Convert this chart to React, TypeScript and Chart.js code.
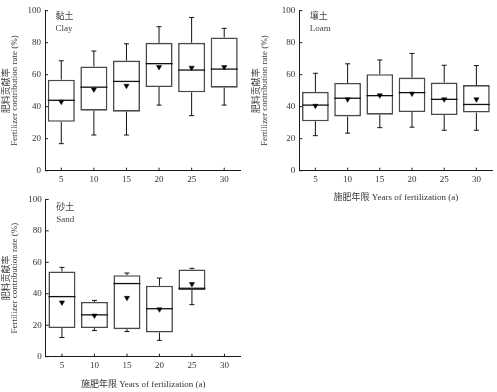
import React, { useEffect, useRef } from 'react';
import { Chart, registerables } from 'chart.js';

Chart.register(...registerables);

// ---------- data ----------
const years = ['5', '10', '15', '20', '25', '30'];
const yTickValues = [0, 20, 40, 60, 80, 100];
const yTitle = ['肥料贡献率', 'Fertilizer contribution rate (%)'];
const xTitle = '施肥年限 Years of fertilization (a)';

const clayLow = [16.9, 22.3, 22.3, 41, 34.4, 41];
const clayQ1 = [30.6, 37.5, 36.9, 52.3, 49, 51.9];
const clayMedian = [44, 52.2, 55.8, 66.9, 62.9, 63.5];
const clayQ3 = [56.9, 65.2, 68.8, 79.9, 79.9, 83.3];
const clayHigh = [68.7, 74.8, 79.3, 90, 95.8, 89];
const clayMean = [43.1, 50.8, 53.1, 64.8, 64.4, 64.8];

const loamLow = [21.9, 23.5, 26.9, 27.2, 25.3, 25.3];
const loamQ1 = [30.9, 33.9, 35, 36.7, 34.8, 36.3];
const loamMedian = [41, 45.3, 46.9, 48.8, 44.6, 41.4];
const loamQ3 = [49.3, 54.8, 60.3, 58.2, 55.1, 53.5];
const loamHigh = [60.9, 66.8, 69.2, 73.3, 65.9, 65.7];
const loamMean = [40.6, 44.6, 47.1, 48.2, 44.6, 44.6];

const sandLow = [12.2, 16.6, 16, 10.4, 33.1, null];
const sandQ1 = [18.2, 18.2, 17.5, 15.4, 42.4, null];
const sandMedian = [38.2, 26.6, 46.5, 30.5, 43.5, null];
const sandQ3 = [54.2, 34.8, 51.8, 45.1, 55.5, null];
const sandHigh = [56.8, 35.8, 53.2, 50, 56.2, null];
const sandMean = [34.5, 26.2, 37.4, 30.1, 46.2, null];

type Num = number | null;
type Panel = {
  zh: string;
  en: string;
  low: Num[];
  q1: Num[];
  med: Num[];
  q3: Num[];
  high: Num[];
  mean: Num[];
  showXTitle: boolean;
  canvas: { left: number; top: number; w: number; h: number };
  area: { left: number; top: number; right: number; bottom: number };
  labelDy: number;
};

const FONT = "'Liberation Serif', 'Times New Roman', 'Noto Sans CJK SC', serif";

const panels: Panel[] = [
  {
    zh: '黏土', en: 'Clay',
    low: clayLow, q1: clayQ1, med: clayMedian, q3: clayQ3, high: clayHigh, mean: clayMean,
    showXTitle: false,
    canvas: { left: 0, top: 0, w: 250, h: 192 },
    area: { left: 45, top: 10.7, right: 240.5, bottom: 170.7 },
    labelDy: 0,
  },
  {
    zh: '壤土', en: 'Loam',
    low: loamLow, q1: loamQ1, med: loamMedian, q3: loamQ3, high: loamHigh, mean: loamMean,
    showXTitle: true,
    canvas: { left: 250, top: 0, w: 247, h: 203 },
    area: { left: 299.3, top: 10.7, right: 495.3, bottom: 170.7 },
    labelDy: 0.5,
  },
  {
    zh: '砂土', en: 'Sand',
    low: sandLow, q1: sandQ1, med: sandMedian, q3: sandQ3, high: sandHigh, mean: sandMean,
    showXTitle: true,
    canvas: { left: 0, top: 190, w: 250, h: 200 },
    area: { left: 45.7, top: 196.7, right: 240.7, bottom: 356.7 },
    labelDy: 2.5,
  },
];

function makeParts(p: Panel) {
  return {
    id: 'boxParts',
    afterDatasetDraw(chart: any, args: any) {
      if (args.index !== 0) return;
      const ctx = chart.ctx;
      const ys = chart.scales.y;
      const meta = chart.getDatasetMeta(0);
      ctx.save();
      meta.data.forEach((bar: any, i: number) => {
        const lo = p.low[i], q1 = p.q1[i], md = p.med[i], q3 = p.q3[i], hi = p.high[i];
        if (lo == null || q1 == null || md == null || q3 == null || hi == null) return;
        const x = bar.x;
        const half = bar.width / 2;
        ctx.strokeStyle = '#111';
        ctx.lineWidth = 1;
        ctx.beginPath();
        ctx.moveTo(x, ys.getPixelForValue(q3));
        ctx.lineTo(x, ys.getPixelForValue(hi));
        ctx.moveTo(x - 2.5, ys.getPixelForValue(hi));
        ctx.lineTo(x + 2.5, ys.getPixelForValue(hi));
        ctx.moveTo(x, ys.getPixelForValue(q1));
        ctx.lineTo(x, ys.getPixelForValue(lo));
        ctx.moveTo(x - 2.5, ys.getPixelForValue(lo));
        ctx.lineTo(x + 2.5, ys.getPixelForValue(lo));
        ctx.stroke();
        ctx.lineWidth = 1.3;
        ctx.beginPath();
        ctx.moveTo(x - half, ys.getPixelForValue(md));
        ctx.lineTo(x + half, ys.getPixelForValue(md));
        ctx.stroke();
      });
      ctx.restore();
    },
    afterDraw(chart: any) {
      const ctx = chart.ctx;
      const xs = chart.scales.x;
      const ys = chart.scales.y;
      const a = chart.chartArea;
      ctx.save();
      ctx.strokeStyle = '#1a1a1a';
      ctx.lineWidth = 1;
      ctx.beginPath();
      years.forEach((_, i) => {
        const x = xs.getPixelForTick(i);
        ctx.moveTo(x, a.bottom);
        ctx.lineTo(x, a.bottom - 3);
      });
      yTickValues.forEach((v) => {
        const y = ys.getPixelForValue(v);
        ctx.moveTo(a.left, y);
        ctx.lineTo(a.left + 3, y);
      });
      ctx.stroke();
      ctx.fillStyle = '#444';
      ctx.font = `9px ${FONT}`;
      ctx.textAlign = 'left';
      ctx.textBaseline = 'middle';
      ctx.fillText(p.zh, a.left + 10.5, a.top + 5.8 + p.labelDy);
      ctx.fillText(p.en, a.left + 10.5, a.top + 17.8 + p.labelDy);
      ctx.restore();
    },
  };
}

function BoxPanel({ p }: { p: Panel }) {
  const ref = useRef<HTMLCanvasElement | null>(null);
  useEffect(() => {
    if (!ref.current) return;
    const yW = p.area.left - p.canvas.left;
    const xH = p.canvas.top + p.canvas.h - p.area.bottom;
    const padTop = p.area.top - p.canvas.top;
    const padRight = p.canvas.left + p.canvas.w - p.area.right;
    const chart = new Chart(ref.current, {
      type: 'bar',
      data: {
        labels: years,
        datasets: [
          {
            type: 'bar',
            order: 1,
            data: years.map((_, i) => (p.q1[i] == null || p.q3[i] == null ? null : [p.q1[i], p.q3[i]])) as any,
            backgroundColor: '#ffffff',
            borderColor: '#4a4a4a',
            borderWidth: 1.6,
            borderSkipped: false,
            barPercentage: 0.83,
            categoryPercentage: 1,
          },
          {
            type: 'line',
            order: 0,
            data: p.mean as any,
            showLine: false,
            pointStyle: 'triangle',
            rotation: 180,
            pointRadius: 3,
            pointBackgroundColor: '#000',
            pointBorderColor: '#000',
            pointBorderWidth: 0.5,
          } as any,
        ],
      },
      options: {
        animation: false,
        responsive: false,
        devicePixelRatio: 1,
        layout: { padding: { top: padTop, right: padRight, left: 0, bottom: 0 } },
        plugins: { legend: { display: false }, tooltip: { enabled: false } },
        scales: {
          x: {
            type: 'category',
            offset: true,
            grid: { display: false, drawTicks: false },
            border: { display: true, color: '#1a1a1a', width: 1 },
            ticks: { color: '#333', font: { family: FONT, size: 9 }, padding: 4, maxRotation: 0, autoSkip: false },
            title: {
              display: p.showXTitle,
              text: xTitle,
              color: '#333',
              font: { family: FONT, size: 9, lineHeight: 1.2 },
              padding: { top: 0, bottom: 0 },
            },
            afterFit: (s: any) => { s.height = xH; },
          },
          y: {
            type: 'linear',
            min: 0,
            max: 100,
            afterBuildTicks: (s: any) => { s.ticks = yTickValues.map((v) => ({ value: v })); },
            grid: { display: false, drawTicks: false },
            border: { display: true, color: '#1a1a1a', width: 1 },
            ticks: { color: '#333', font: { family: FONT, size: 9 }, padding: 4 },
            title: {
              display: true,
              text: yTitle,
              color: '#3a3a3a',
              font: { family: FONT, size: 9, lineHeight: 0.85 },
              padding: { top: 3, bottom: 0 },
            },
            afterFit: (s: any) => { s.width = yW; },
          },
        },
      } as any,
      plugins: [makeParts(p)],
    });
    return () => chart.destroy();
  }, [p]);
  return (
    <canvas
      ref={ref}
      width={p.canvas.w}
      height={p.canvas.h}
      style={{ position: 'absolute', left: p.canvas.left, top: p.canvas.top, width: p.canvas.w, height: p.canvas.h }}
    />
  );
}

export default function App() {
  return (
    <div style={{ position: 'absolute', left: 0, top: 0, width: 497, height: 392, background: '#fff', overflow: 'hidden' }}>
      {panels.map((p) => (
        <BoxPanel key={p.en} p={p} />
      ))}
    </div>
  );
}
